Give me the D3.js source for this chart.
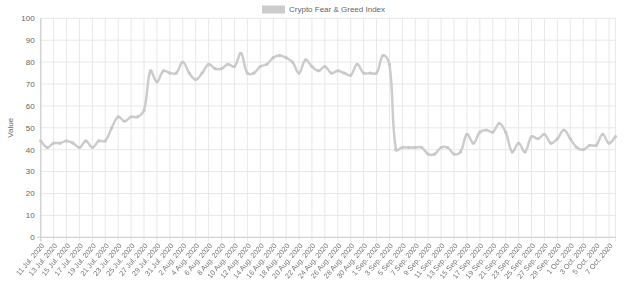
<!DOCTYPE html>
<html><head><meta charset="utf-8">
<script src="https://cdn.jsdelivr.net/npm/d3@7"></script>
<style>body{margin:0;background:#fff}svg{display:block;font-family:"Liberation Sans",Arial,sans-serif}.xl{filter:grayscale(1)}</style>
</head><body><svg id="c" width="630" height="281"></svg>
<script>
const startDate = "2020-07-11";
const values = [44,41,43,43,44,43,41,44,41,44,44,50,55,53,55,55,58,76,71,76,75,75,80,75,72,75,79,77,77,79,78,84,75,75,78,79,82,83,82,80,75,81,78,76,78,75,76,75,74,79,75,75,75,83,79,40,41,41,41,41,38,38,41,41,38,39,47,43,48,49,48,52,48,39,43,39,46,45,47,43,45,49,45,41,40,42,42,47,43,46];
const yTicks = [0,10,20,30,40,50,60,70,80,90,100];
const months = ["Jan.","Feb.","Mar.","Apr.","May","Jun.","Jul.","Aug.","Sep.","Oct.","Nov.","Dec."];
const seriesName = "Crypto Fear & Greed Index";

const d0 = new Date(startDate + "T00:00:00");
const labels = values.map((v,i)=>{const d=new Date(d0); d.setDate(d.getDate()+i); return d.getDate()+" "+months[d.getMonth()]+" "+d.getFullYear();});
const data = values.map((v,i)=>({label:labels[i], v}));

const svg = d3.select("#c");
const L=40.7, R=615.5, T=18.3, B=237.3;
const x = d3.scalePoint().domain(labels).range([L,R]);
const y = d3.scaleLinear().domain([0,100]).range([B,T]);
const shown = labels.filter((d,i)=>i%2===0);

// grid
svg.append("g").selectAll("line").data(yTicks).join("line")
  .attr("x1",L).attr("x2",R).attr("y1",d=>y(d)).attr("y2",d=>y(d))
  .attr("stroke","#e8e8e8").attr("stroke-width",1);
svg.append("g").selectAll("line").data(shown.concat([labels[labels.length-1]])).join("line")
  .attr("x1",d=>x(d)).attr("x2",d=>x(d)).attr("y1",T).attr("y2",B+4)
  .attr("stroke","#e8e8e8").attr("stroke-width",1);
// axes lines
svg.append("line").attr("x1",L).attr("x2",L).attr("y1",T).attr("y2",B+4).attr("stroke","#d4d4d4").attr("stroke-width",1.5);
svg.append("line").attr("x1",L-4).attr("x2",R).attr("y1",B).attr("y2",B).attr("stroke","#cfcfcf").attr("stroke-width",1);

// y labels
svg.append("g").selectAll("text").data(yTicks).join("text")
  .attr("x",L-6).attr("y",d=>y(d)).attr("dy","0.35em").attr("text-anchor","end")
  .attr("font-size",8).attr("fill","#666").text(d=>d);
// x labels
svg.append("g").attr("class","xl").selectAll("text").data(shown).join("text")
  .attr("transform",d=>`translate(${x(d)+2},${B+7}) rotate(-50)`)
  .attr("text-anchor","end").attr("dy","0.35em")
  .attr("font-size",7.3).attr("fill","#777").text(d=>d);
// y title
svg.append("text").attr("transform",`translate(13,${(T+B)/2}) rotate(-90)`)
  .attr("text-anchor","middle").attr("font-size",8).attr("fill","#666").text("Value");

// legend
svg.append("rect").attr("x",262).attr("y",5.5).attr("width",23).attr("height",8).attr("fill","#cccccc");
svg.append("text").attr("x",289).attr("y",12.3).attr("font-size",8).attr("fill","#666").text(seriesName);

// line: Chart.js-style spline (tension 0.4) computed from scaled points
const pts = data.map(d=>[x(d.label), y(d.v)]);
const tension = 0.4;
const cps = pts.map((p,i)=>{
  const prev = pts[i-1]||p, next = pts[i+1]||p;
  const d01 = Math.hypot(p[0]-prev[0], p[1]-prev[1]);
  const d12 = Math.hypot(next[0]-p[0], next[1]-p[1]);
  let s01 = d01/(d01+d12), s12 = d12/(d01+d12);
  if (isNaN(s01)) s01 = 0; if (isNaN(s12)) s12 = 0;
  const fa = tension*s01, fb = tension*s12;
  const clamp = v=>Math.max(T, Math.min(B, v));
  return {
    prev:[Math.max(L,Math.min(R,p[0]-fa*(next[0]-prev[0]))), clamp(p[1]-fa*(next[1]-prev[1]))],
    next:[Math.max(L,Math.min(R,p[0]+fb*(next[0]-prev[0]))), clamp(p[1]+fb*(next[1]-prev[1]))]
  };
});
const path = d3.path();
pts.forEach((p,i)=>{
  if (i===0) path.moveTo(p[0],p[1]);
  else path.bezierCurveTo(cps[i-1].next[0],cps[i-1].next[1],cps[i].prev[0],cps[i].prev[1],p[0],p[1]);
});
svg.append("path").attr("d",path.toString()).attr("fill","none").attr("stroke","#cccccc").attr("stroke-width",2.5);
svg.append("g").selectAll("circle").data(data).join("circle")
  .attr("cx",d=>x(d.label)).attr("cy",d=>y(d.v)).attr("r",1.6).attr("fill","#c8c8c8");
</script></body></html>
